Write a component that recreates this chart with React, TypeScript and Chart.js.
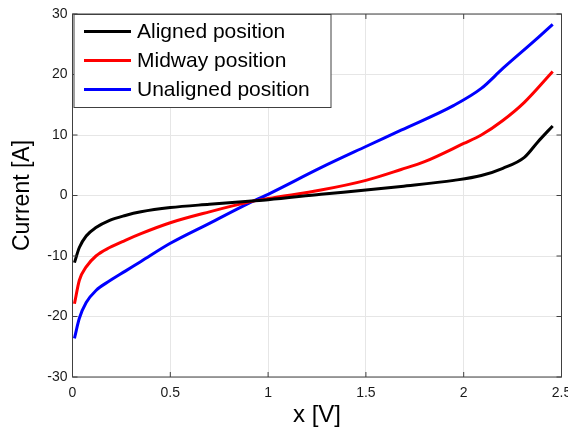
import { useEffect, useRef } from "react";
import { Chart, registerables } from "chart.js";

Chart.register(...registerables);

const seriesLabels = ["Aligned position", "Midway position", "Unaligned position"];
const seriesColors = ["#000000", "#ff0000", "#0000ff"];

const alignedX = [0.01, 0.035, 0.07, 0.12, 0.19, 0.27, 0.35, 0.5, 0.7, 0.9, 1.0, 1.27, 1.5, 1.68, 1.95, 2.09, 2.2, 2.31, 2.38, 2.455];
const alignedY = [-11.1, -8.6, -6.7, -5.3, -4.1, -3.3, -2.7, -2.0, -1.45, -0.95, -0.7, 0.2, 0.9, 1.5, 2.5, 3.3, 4.5, 6.3, 8.9, 11.5];

const midwayX = [0.01, 0.035, 0.07, 0.12, 0.19, 0.27, 0.35, 0.5, 0.7, 0.9, 1.0, 1.27, 1.5, 1.68, 1.8, 2.0, 2.09, 2.2, 2.31, 2.455];
const midwayY = [-17.9, -14.0, -11.8, -10.0, -8.6, -7.4, -6.3, -4.5, -2.7, -1.1, -0.5, 0.9, 2.5, 4.3, 5.6, 8.6, 10.0, 12.4, 15.4, 20.5];

const unalignedX = [0.01, 0.035, 0.07, 0.12, 0.19, 0.27, 0.35, 0.5, 0.7, 0.9, 1.0, 1.27, 1.5, 1.68, 1.95, 2.09, 2.2, 2.37, 2.455];
const unalignedY = [-23.6, -20.3, -17.7, -15.7, -14.1, -12.5, -10.9, -7.9, -4.6, -1.3, 0.2, 4.6, 8.1, 10.8, 14.9, 17.7, 21.0, 25.8, 28.3];

const xTickValues = [0, 0.5, 1, 1.5, 2, 2.5];
const yTickValues = [-30, -20, -10, 0, 10, 20, 30];

const AXIS_COLOR = "#404040";
const FONT = "'Liberation Sans', Arial, Helvetica, sans-serif";

function pairs(xs: number[], ys: number[]) {
  return xs.map((x, i) => ({ x, y: ys[i] }));
}

const boxPlugin = {
  id: "matlabBox",
  afterDraw(chart: any) {
    const { ctx, chartArea } = chart;
    const { left, right, top, bottom } = chartArea;
    const xs = chart.scales.x;
    const ys = chart.scales.y;
    ctx.save();
    ctx.strokeStyle = AXIS_COLOR;
    ctx.lineWidth = 1;
    ctx.strokeRect(left, top, right - left, bottom - top);
    const tl = 5;
    ctx.beginPath();
    xTickValues.forEach((v) => {
      const px = xs.getPixelForValue(v);
      ctx.moveTo(px, bottom);
      ctx.lineTo(px, bottom - tl);
      ctx.moveTo(px, top);
      ctx.lineTo(px, top + tl);
    });
    yTickValues.forEach((v) => {
      const py = ys.getPixelForValue(v);
      ctx.moveTo(left, py);
      ctx.lineTo(left + tl, py);
      ctx.moveTo(right, py);
      ctx.lineTo(right - tl, py);
    });
    ctx.stroke();

    // legend
    const bx = left + 1.5;
    const by = top + 0.5;
    const bw = 257;
    const bh = 93;
    ctx.fillStyle = "#ffffff";
    ctx.fillRect(bx, by, bw, bh);
    ctx.strokeStyle = AXIS_COLOR;
    ctx.strokeRect(bx, by, bw, bh);
    ctx.font = `21px ${FONT}`;
    ctx.textBaseline = "middle";
    ctx.textAlign = "left";
    chart.data.datasets.forEach((ds: any, i: number) => {
      const ry = by + 17 + i * 29;
      ctx.strokeStyle = ds.borderColor;
      ctx.lineWidth = 3;
      ctx.beginPath();
      ctx.moveTo(bx + 10, ry);
      ctx.lineTo(bx + 57, ry);
      ctx.stroke();
      ctx.fillStyle = "#000000";
      ctx.fillText(ds.label, bx + 63, ry + 1);
    });
    ctx.restore();
  },
};

export default function App() {
  const canvasRef = useRef<HTMLCanvasElement | null>(null);

  useEffect(() => {
    document.body.style.margin = "0";
    const canvas = canvasRef.current;
    if (!canvas) return;
    const mk = (i: number, xs: number[], ys: number[]) => ({
      label: seriesLabels[i],
      data: pairs(xs, ys),
      borderColor: seriesColors[i],
      backgroundColor: seriesColors[i],
      borderWidth: 3,
      pointRadius: 0,
      tension: 0.2,
      cubicInterpolationMode: "monotone",
    });
    const chart = new Chart(canvas, {
      type: "line",
      data: {
        datasets: [
          mk(0, alignedX, alignedY),
          mk(1, midwayX, midwayY),
          mk(2, unalignedX, unalignedY),
        ],
      },
      options: {
        animation: false,
        responsive: false,
        devicePixelRatio: 1,
        layout: { padding: { left: 0, top: 14, right: 6.5, bottom: 0 } },
        plugins: {
          legend: { display: false },
          tooltip: { enabled: false },
        },
        scales: {
          x: {
            type: "linear",
            min: 0,
            max: 2.5,
            afterBuildTicks(scale: any) {
              scale.ticks = xTickValues.map((v) => ({ value: v }));
            },
            afterFit(scale: any) {
              scale.height = 52;
              scale.paddingLeft = 0;
              scale.paddingRight = 0;
            },
            grid: { color: "#e6e6e6", drawTicks: false, lineWidth: 1 },
            border: { display: false },
            ticks: {
              padding: 8,
              color: "#1a1a1a",
              font: { family: FONT, size: 14 },
              maxRotation: 0,
              autoSkip: false,
              callback: (v: any) => String(v),
            },
            title: {
              display: true,
              text: "x [V]",
              color: "#000000",
              font: { family: FONT, size: 24, lineHeight: 1 },
              padding: { top: 0, bottom: 2 },
            },
          },
          y: {
            type: "linear",
            min: -30,
            max: 30,
            afterBuildTicks(scale: any) {
              scale.ticks = yTickValues.map((v) => ({ value: v }));
            },
            afterFit(scale: any) {
              scale.width = 72.5;
              scale.paddingTop = 0;
              scale.paddingBottom = 0;
            },
            grid: { color: "#e6e6e6", drawTicks: false, lineWidth: 1 },
            border: { display: false },
            ticks: {
              padding: 5,
              color: "#1a1a1a",
              font: { family: FONT, size: 14 },
              autoSkip: false,
              callback: (v: any) => String(v),
            },
            title: {
              display: true,
              text: "Current [A]",
              color: "#000000",
              font: { family: FONT, size: 23, lineHeight: 1 },
              padding: { top: 11, bottom: 0 },
            },
          },
        },
      },
      plugins: [boxPlugin],
    } as any);
    return () => chart.destroy();
  }, []);

  return (
    <div style={{ position: "fixed", left: 0, top: 0, width: 568, height: 429 }}>
      <canvas ref={canvasRef} width={568} height={429} style={{ width: 568, height: 429 }} />
    </div>
  );
}
